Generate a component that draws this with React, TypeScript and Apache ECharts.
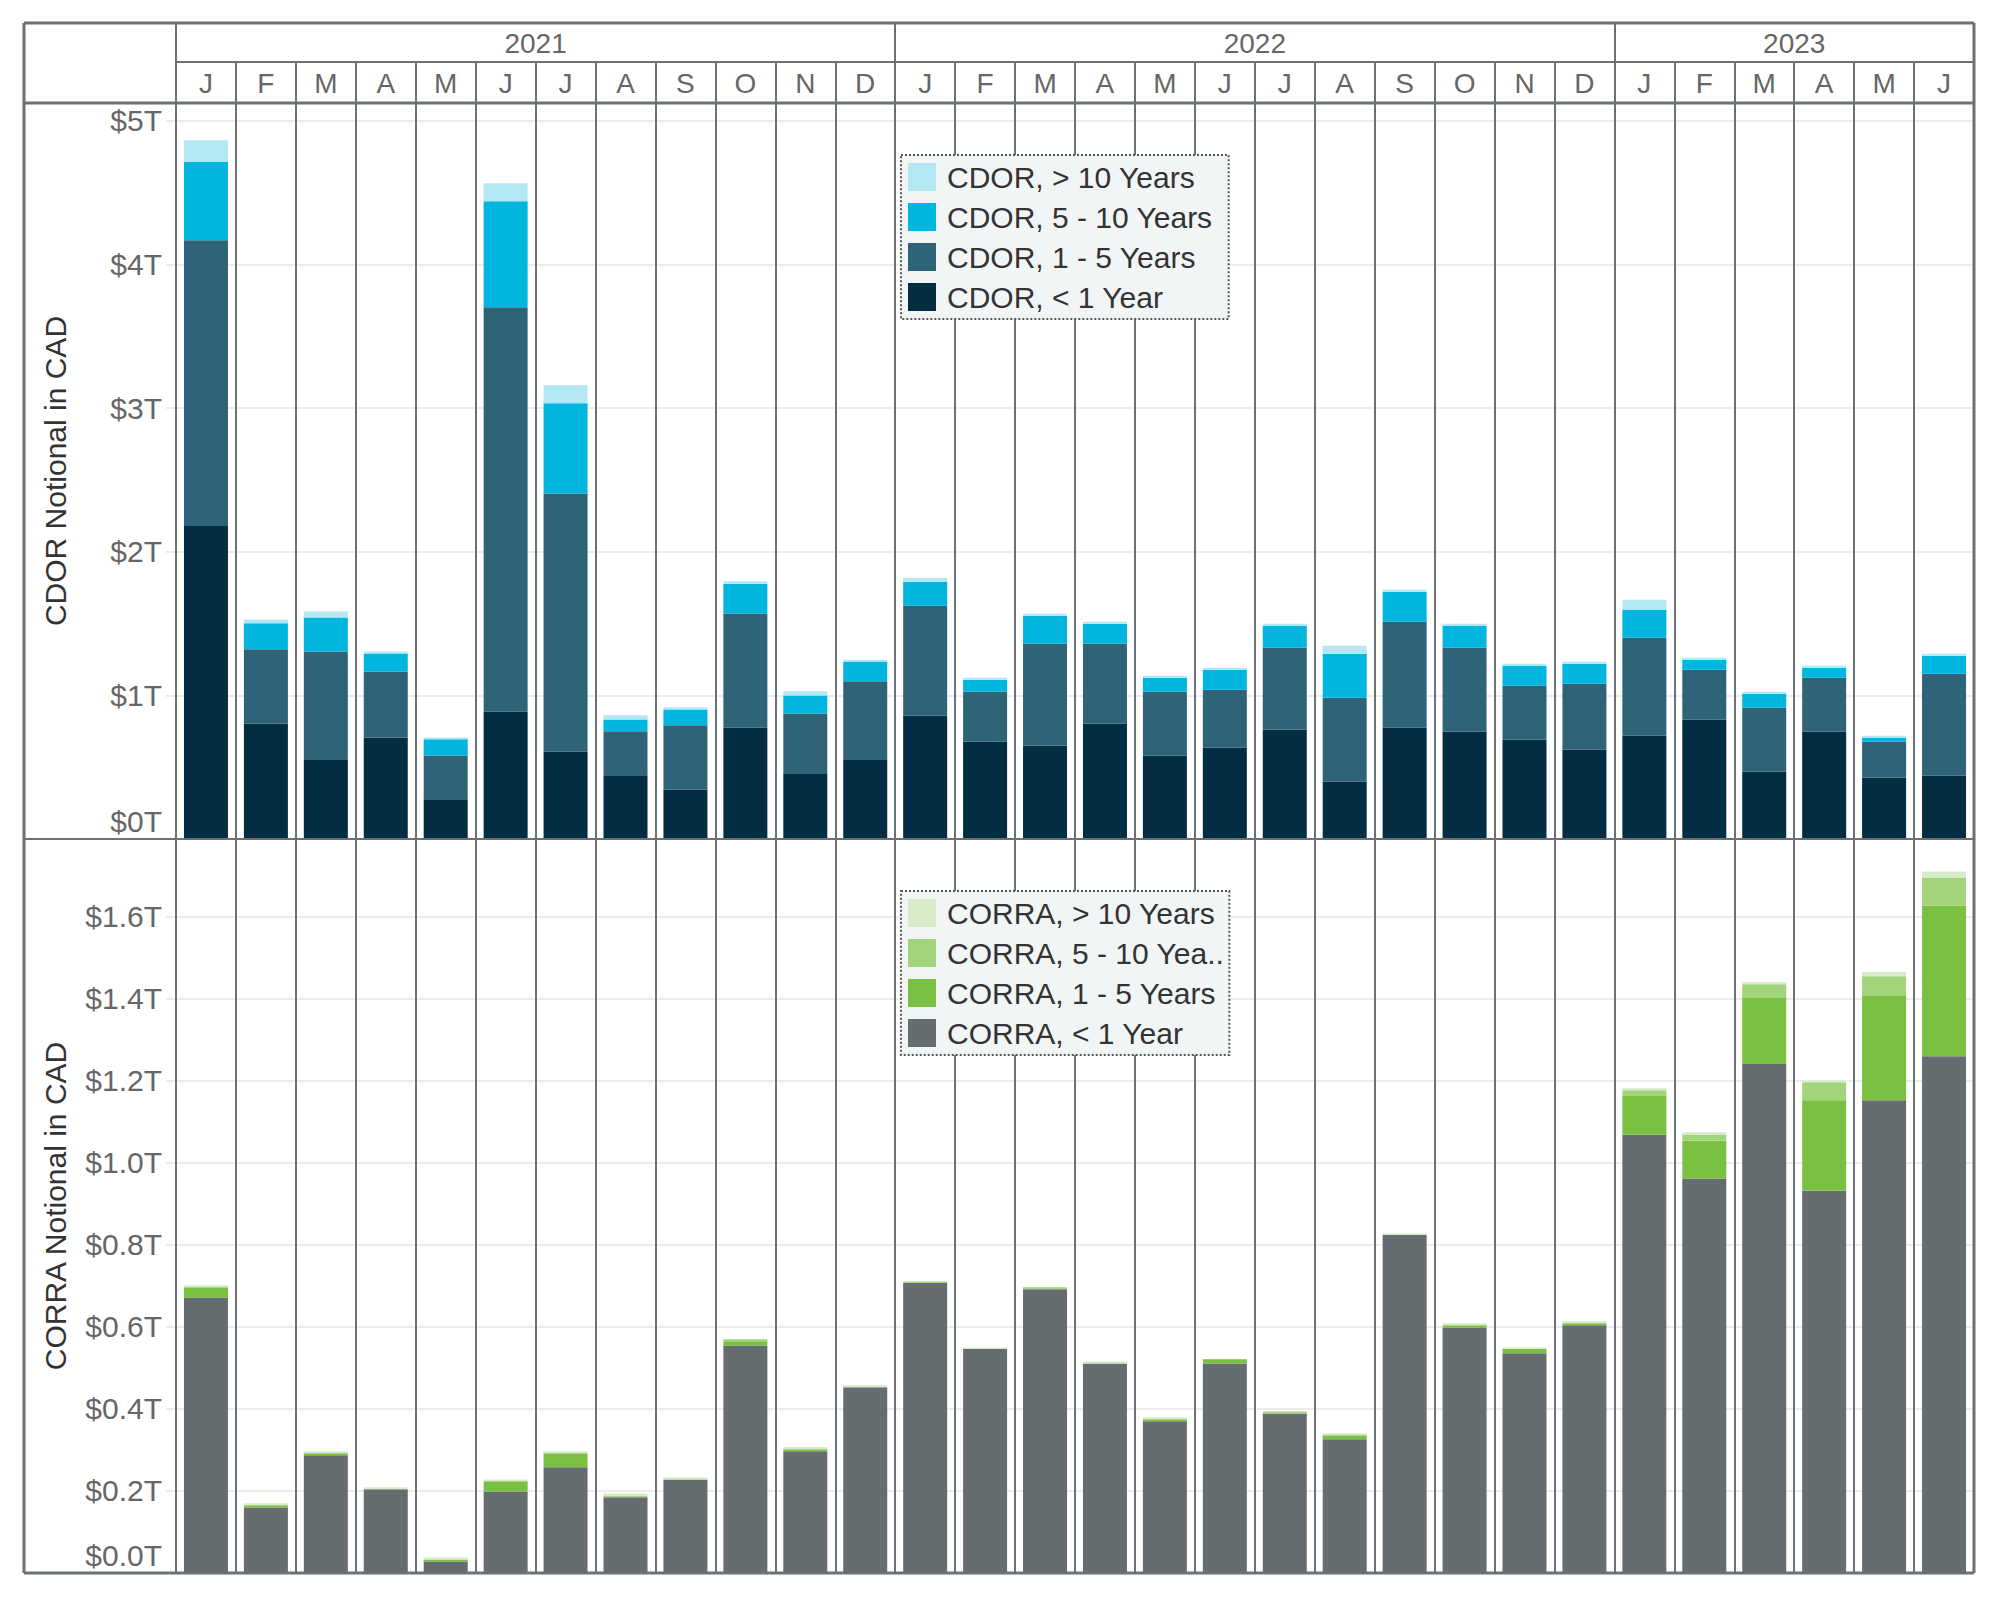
import React, { useEffect, useRef } from "react";
import * as echarts from "echarts";

// ---------- data ----------
const categories = [
  "2021-01", "2021-02", "2021-03", "2021-04", "2021-05", "2021-06", "2021-07", "2021-08", "2021-09", "2021-10", "2021-11", "2021-12",
  "2022-01", "2022-02", "2022-03", "2022-04", "2022-05", "2022-06", "2022-07", "2022-08", "2022-09", "2022-10", "2022-11", "2022-12",
  "2023-01", "2023-02", "2023-03", "2023-04", "2023-05", "2023-06",
];
const monthLetters = [
  "J", "F", "M", "A", "M", "J", "J", "A", "S", "O", "N", "D",
  "J", "F", "M", "A", "M", "J", "J", "A", "S", "O", "N", "D",
  "J", "F", "M", "A", "M", "J",
];
const years = ["2021", "2022", "2023"];
const yearBounds = [0, 12, 24, 30];

const cdorLt1 = [2.18, 0.805, 0.556, 0.707, 0.276, 0.888, 0.608, 0.444, 0.345, 0.776, 0.457, 0.556,
  0.858, 0.677, 0.65, 0.803, 0.58, 0.636, 0.761, 0.399, 0.775, 0.747, 0.691, 0.622,
  0.719, 0.831, 0.469, 0.747, 0.427, 0.441];
const cdor1to5 = [1.99, 0.516, 0.749, 0.46, 0.306, 2.814, 1.798, 0.306, 0.447, 0.795, 0.417, 0.542,
  0.766, 0.349, 0.71, 0.557, 0.446, 0.403, 0.571, 0.585, 0.738, 0.585, 0.376, 0.459,
  0.682, 0.348, 0.445, 0.376, 0.25, 0.71];
const cdor5to10 = [0.545, 0.181, 0.237, 0.125, 0.112, 0.739, 0.628, 0.082, 0.109, 0.207, 0.125, 0.138,
  0.167, 0.083, 0.195, 0.139, 0.097, 0.14, 0.153, 0.306, 0.209, 0.153, 0.139, 0.139,
  0.195, 0.069, 0.098, 0.07, 0.028, 0.125];
const cdorGt10 = [0.15, 0.027, 0.042, 0.013, 0.013, 0.125, 0.125, 0.029, 0.016, 0.017, 0.03, 0.013,
  0.028, 0.014, 0.013, 0.014, 0.014, 0.014, 0.014, 0.056, 0.013, 0.014, 0.014, 0.014,
  0.07, 0.014, 0.014, 0.013, 0.014, 0.014];

const corraLt1 = [0.672, 0.16, 0.287, 0.204, 0.028, 0.199, 0.258, 0.185, 0.228, 0.555, 0.297, 0.453,
  0.707, 0.546, 0.692, 0.511, 0.37, 0.511, 0.389, 0.326, 0.824, 0.599, 0.536, 0.604,
  1.069, 0.962, 1.241, 0.932, 1.153, 1.26];
const corra1to5 = [0.025, 0.005, 0.005, 0, 0.005, 0.025, 0.034, 0, 0, 0.01, 0.005, 0,
  0, 0, 0, 0, 0.005, 0.01, 0, 0.01, 0, 0.005, 0.01, 0.005,
  0.094, 0.092, 0.161, 0.221, 0.254, 0.367];
const corra5to10 = [0, 0, 0, 0, 0, 0, 0, 0.004, 0, 0.005, 0, 0,
  0.004, 0, 0.005, 0, 0, 0, 0.005, 0, 0, 0, 0, 0,
  0.014, 0.015, 0.034, 0.044, 0.048, 0.068];
const corraGt10 = [0.005, 0.005, 0.005, 0.005, 0.005, 0.004, 0.005, 0.005, 0.005, 0, 0.005, 0.005,
  0, 0.004, 0, 0.005, 0.005, 0, 0, 0.005, 0.004, 0.005, 0.004, 0.005,
  0.005, 0.006, 0.005, 0.004, 0.011, 0.016];

const cdorNames = ["CDOR, > 10 Years", "CDOR, 5 - 10 Years", "CDOR, 1 - 5 Years", "CDOR, < 1 Year"];
const corraNames = ["CORRA, > 10 Years", "CORRA, 5 - 10 Years", "CORRA, 1 - 5 Years", "CORRA, < 1 Year"];
const corraLegendLabels = ["CORRA, > 10 Years", "CORRA, 5 - 10 Yea..", "CORRA, 1 - 5 Years", "CORRA, < 1 Year"];

// ---------- styles ----------
const FONT = "'Liberation Sans', Arial, sans-serif";
const LINE = "#6b7175";
const GRIDC = "#ececec";
const TICKTXT = "#666666";
const cdorColors = ["#b3e7f4", "#00b5de", "#2f6478", "#032d42"];
const corraColors = ["#d7ebc9", "#a2d47c", "#7ac142", "#666d70"];

// layout
const W = 2000, H = 1600;
const FL = 24, L = 176, R = 1974, T0 = 23, YR = 62, MR = 103, MID = 839, B = 1573;

export default function App() {
  const ref = useRef<HTMLDivElement>(null);
  useEffect(() => {
    if (!ref.current) return;
    const chart = echarts.init(ref.current, undefined, { renderer: "svg" });

    const yLabel = (dec: number) => ({
      fontSize: 30,
      color: TICKTXT,
      fontFamily: FONT,
      margin: 14,
      showMaxLabel: false,
      formatter: (v: number) => (v === 0 ? "{z|$" + v.toFixed(dec) + "T}" : "$" + v.toFixed(dec) + "T"),
      rich: { z: { fontSize: 30, color: TICKTXT, fontFamily: FONT, padding: [0, 0, 36, 0] } },
    });

    const catX = (gridIndex: number) => ({
      type: "category",
      gridIndex,
      data: categories,
      boundaryGap: true,
      axisLabel: { show: false },
      axisTick: { show: false },
      axisLine: { show: false },
      splitLine: { show: true, interval: 0, lineStyle: { color: LINE, width: 2 } },
    });

    const valY = (gridIndex: number, max: number, interval: number, dec: number, name: string) => ({
      type: "value",
      gridIndex,
      min: 0,
      max,
      interval,
      name,
      nameLocation: "middle",
      nameGap: 106,
      nameTextStyle: { fontSize: 30, color: "#333333", fontFamily: FONT },
      axisLine: { show: false },
      axisTick: { show: true, length: 10, lineStyle: { color: GRIDC, width: 2 } },
      splitLine: { show: true, lineStyle: { color: GRIDC, width: 2 } },
      axisLabel: yLabel(dec),
    });

    const yearMid = years.map((_, i) => (yearBounds[i] + yearBounds[i + 1]) / 2);

    const mkSeries = (names: string[], colors: string[], values: number[][], stack: string, gi: number) =>
      names
        .map((n, i) => ({
          name: n,
          type: "bar",
          stack,
          xAxisIndex: gi,
          yAxisIndex: gi,
          barWidth: 44,
          data: values[i],
          itemStyle: { color: colors[i] },
          emphasis: { disabled: true },
        }))
        .reverse();

    const hline = (x1: number, x2: number, y: number, w = 2) => ({
      type: "line", z: 100, shape: { x1, y1: y, x2, y2: y }, style: { stroke: LINE, lineWidth: w },
    });
    const vline = (x: number, y1: number, y2: number, w = 2) => ({
      type: "line", z: 100, shape: { x1: x, y1, x2: x, y2 }, style: { stroke: LINE, lineWidth: w },
    });

    const legendBase = {
      orient: "vertical",
      left: 901,
      itemWidth: 28,
      itemHeight: 28,
      itemGap: 10,
      icon: "rect",
      selectedMode: false,
      backgroundColor: "#f2f5f6",
      borderColor: "#555555",
      borderWidth: 2,
      borderType: "dotted",
      borderRadius: 0,
      textStyle: { fontSize: 30, color: "#333333", fontFamily: FONT, padding: [0, 0, 0, 6] },
    };

    chart.setOption({
      animation: false,
      backgroundColor: "#ffffff",
      textStyle: { fontFamily: FONT },
      grid: [
        { left: L, right: W - R, top: MR, height: MID - MR, containLabel: false },
        { left: L, right: W - R, top: MID, height: B - MID, containLabel: false },
      ],
      xAxis: [
        catX(0),
        catX(1),
        {
          type: "category",
          gridIndex: 0,
          position: "top",
          data: categories,
          boundaryGap: true,
          axisLine: { show: false },
          axisTick: { show: true, interval: 0, length: MR - YR, lineStyle: { color: LINE, width: 2 } },
          axisLabel: {
            interval: 0,
            margin: 6,
            fontSize: 28,
            color: TICKTXT,
            fontFamily: FONT,
            formatter: (_v: string, i: number) => monthLetters[i],
          },
          splitLine: { show: false },
        },
        {
          type: "value",
          gridIndex: 0,
          position: "top",
          offset: MR - YR,
          min: yearBounds[0],
          max: yearBounds[yearBounds.length - 1],
          axisLine: { show: false },
          axisTick: { show: true, customValues: yearBounds, length: YR - T0, lineStyle: { color: LINE, width: 2 } },
          axisLabel: {
            customValues: yearMid,
            margin: 5,
            fontSize: 28,
            color: TICKTXT,
            fontFamily: FONT,
            formatter: (v: number) => years[yearMid.indexOf(v)] ?? "",
          },
          splitLine: { show: false },
        },
      ],
      yAxis: [
        valY(0, 5.125, 1, 0, "CDOR Notional in CAD"),
        valY(1, 1.79, 0.2, 1, "CORRA Notional in CAD"),
      ],
      legend: [
        { ...legendBase, top: 155, padding: [7, 16, 7, 7], data: cdorNames },
        {
          ...legendBase,
          top: 891,
          padding: [7, 5, 7, 7],
          data: corraNames,
          formatter: (n: string) => corraLegendLabels[corraNames.indexOf(n)],
        },
      ],
      series: [
        ...mkSeries(cdorNames, cdorColors, [cdorGt10, cdor5to10, cdor1to5, cdorLt1], "cdor", 0),
        ...mkSeries(corraNames, corraColors, [corraGt10, corra5to10, corra1to5, corraLt1], "corra", 1),
      ],
      graphic: [
        hline(FL, R, T0, 3),
        hline(L, R, YR),
        hline(FL, R, MR, 3),
        hline(FL, R, MID),
        hline(FL, R, B, 3),
        vline(FL, T0, B, 3),
        vline(L, T0, B),
        vline(R, T0, B, 3),
      ],
    });

    return () => chart.dispose();
  }, []);

  return <div ref={ref} style={{ position: "absolute", left: 0, top: 0, width: W, height: H }} />;
}
